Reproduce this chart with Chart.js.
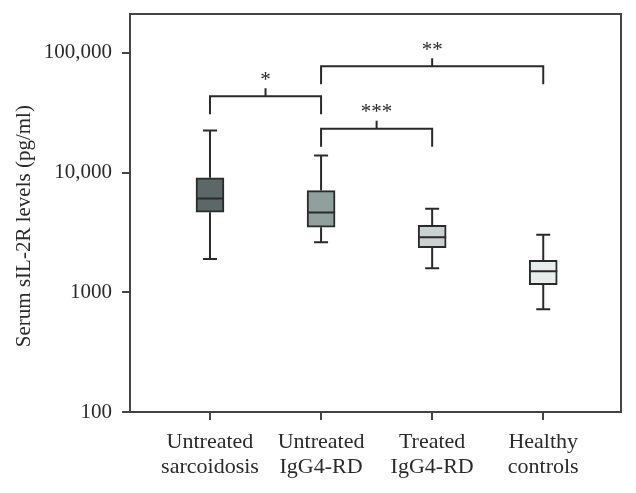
<!DOCTYPE html>
<html>
<head>
<meta charset="utf-8">
<script src="https://cdn.jsdelivr.net/npm/chart.js@4.4.1/dist/chart.umd.min.js"></script>
<style>
  html, body { margin: 0; padding: 0; background: #fff; }
  #wrap { width: 636px; height: 493px; }
</style>
</head>
<body>
<div id="wrap"><canvas id="myChart"></canvas></div>
<script>
var groups = [['Untreated', 'sarcoidosis'], ['Untreated', 'IgG4-RD'], ['Treated', 'IgG4-RD'], ['Healthy', 'controls']];
var whiskerLow  = [1900, 2620, 1590, 720];
var q1          = [4660, 3490, 2360, 1160];
var median      = [6070, 4630, 2880, 1500];
var q3          = [9030, 7070, 3630, 1850];
var whiskerHigh = [22400, 13900, 4980, 3020];
var boxColors = ['#5c6767', '#8fa09d', '#c9d2d0', '#e7ecec'];

var yTickValues = [100, 1000, 10000, 100000];
var yTickLabels = ['100', '1000', '10,000', '100,000'];

// significance brackets: group from, group to, level (pg/ml), label
var bracketFrom  = [0, 1, 1];
var bracketTo    = [1, 2, 3];
var bracketLevel = [43400, 23200, 77300];
var bracketText  = ['*', '***', '**'];

var ink = '#2a2a2a';
var serif = "'Liberation Serif', 'Times New Roman', serif";

var boxExtras = {
  id: 'boxExtras',
  afterDatasetsDraw: function(chart) {
    var ctx = chart.ctx;
    var xs = chart.scales.x, ys = chart.scales.y;
    var half = 14, cap = 7;
    ctx.save();
    ctx.strokeStyle = ink;
    ctx.lineWidth = 2;
    for (var i = 0; i < groups.length; i++) {
      var x = xs.getPixelForValue(i);
      ctx.beginPath();
      ctx.moveTo(x, ys.getPixelForValue(whiskerHigh[i]));
      ctx.lineTo(x, ys.getPixelForValue(q3[i]));
      ctx.moveTo(x, ys.getPixelForValue(q1[i]));
      ctx.lineTo(x, ys.getPixelForValue(whiskerLow[i]));
      ctx.moveTo(x - cap, ys.getPixelForValue(whiskerHigh[i]));
      ctx.lineTo(x + cap, ys.getPixelForValue(whiskerHigh[i]));
      ctx.moveTo(x - cap, ys.getPixelForValue(whiskerLow[i]));
      ctx.lineTo(x + cap, ys.getPixelForValue(whiskerLow[i]));
      ctx.moveTo(x - half, ys.getPixelForValue(median[i]));
      ctx.lineTo(x + half, ys.getPixelForValue(median[i]));
      ctx.stroke();
    }
    // brackets
    ctx.font = '21px ' + serif;
    ctx.fillStyle = ink;
    ctx.textAlign = 'center';
    ctx.textBaseline = 'middle';
    for (var b = 0; b < bracketLevel.length; b++) {
      var xa = xs.getPixelForValue(bracketFrom[b]);
      var xb = xs.getPixelForValue(bracketTo[b]);
      var yl = ys.getPixelForValue(bracketLevel[b]);
      var xm = (xa + xb) / 2;
      ctx.beginPath();
      ctx.moveTo(xa, yl + 18);
      ctx.lineTo(xa, yl);
      ctx.lineTo(xb, yl);
      ctx.lineTo(xb, yl + 18);
      ctx.moveTo(xm, yl);
      ctx.lineTo(xm, yl - 8);
      ctx.stroke();
      ctx.fillText(bracketText[b], xm, yl - 16);
    }
    // frame top and right
    var a = chart.chartArea;
    ctx.strokeStyle = '#444';
    ctx.beginPath();
    ctx.moveTo(a.left, a.top);
    ctx.lineTo(a.right, a.top);
    ctx.lineTo(a.right, a.bottom);
    ctx.stroke();
    ctx.restore();
  }
};

var ctx1 = document.getElementById('myChart').getContext('2d');

new Chart(ctx1, {
  type: 'bar',
  data: {
    datasets: [{
      data: groups.map(function(g, i) { return { x: i, y: [q1[i], q3[i]] }; }),
      backgroundColor: boxColors,
      borderColor: ink,
      borderWidth: 2,
      borderSkipped: false,
      barThickness: 28
    }]
  },
  options: {
    responsive: true,
    maintainAspectRatio: false,
    animation: false,
    layout: { padding: { top: 14, right: 15, left: 0, bottom: 0 } },
    plugins: { legend: { display: false }, tooltip: { enabled: false } },
    scales: {
      x: {
        type: 'linear',
        offset: false,
        min: -0.72,
        max: 3.7,
        afterBuildTicks: function(scale) {
          scale.ticks = groups.map(function(g, i) { return { value: i }; });
        },
        afterFit: function(scale) {
          scale.height = 81;
          scale.paddingLeft = 0;
          scale.paddingRight = 0;
        },
        grid: { offset: false, drawOnChartArea: false, drawTicks: true, tickLength: 8, color: '#444', lineWidth: 2 },
        border: { display: true, color: '#444', width: 2 },
        ticks: {
          autoSkip: false,
          maxRotation: 0,
          padding: 10,
          color: ink,
          font: { family: serif, size: 22, lineHeight: 1.14 },
          callback: function(value) { return groups[value]; }
        }
      },
      y: {
        type: 'logarithmic',
        min: 100,
        max: 211000,
        afterBuildTicks: function(scale) {
          scale.ticks = yTickValues.map(function(v) { return { value: v }; });
        },
        afterFit: function(scale) {
          scale.width = 130;
          scale.paddingTop = 0;
          scale.paddingBottom = 0;
        },
        grid: { drawOnChartArea: false, drawTicks: true, tickLength: 8, color: '#444', lineWidth: 2 },
        border: { display: true, color: '#444', width: 2 },
        ticks: {
          padding: 10,
          color: ink,
          font: { family: serif, size: 21 },
          callback: function(value) { return yTickLabels[yTickValues.indexOf(value)]; }
        },
        title: {
          display: true,
          text: 'Serum sIL-2R levels (pg/ml)     ',
          color: ink,
          font: { family: serif, size: 21 },
          padding: { top: 12, bottom: 0 }
        }
      }
    }
  },
  plugins: [boxExtras]
});
</script>
</body>
</html>
